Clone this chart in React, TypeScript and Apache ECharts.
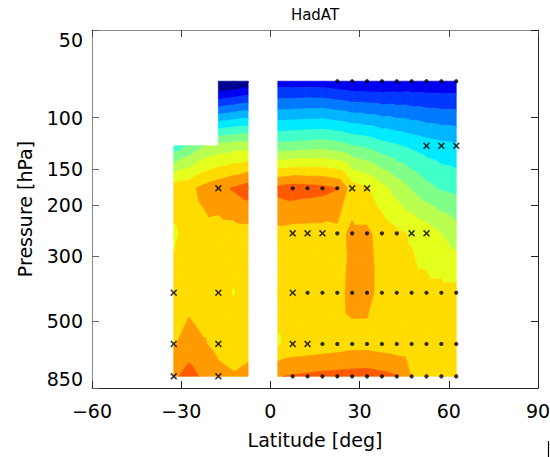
import React, { useEffect, useRef } from 'react';
import * as echarts from 'echarts';

// Grid latitudes (deg) and layer-mid pressure levels (hPa)
const LAT_NORTH = [2.5, 7.5, 12.5, 17.5, 22.5, 27.5, 32.5, 37.5, 42.5, 47.5, 52.5, 57.5, 62.5];
const LAT_SOUTH = [-32.5, -27.5, -22.5, -17.5, -12.5, -7.5];
const LEVELS = [775, 600, 400, 250, 175, 125, 75];

// Temperature trend (K/decade); rows follow LEVELS, columns follow latitudes
const TREND_NORTH: (number | null)[][] = [
  [0.195, 0.21, 0.22, 0.23, 0.235, 0.24, 0.245, 0.23, 0.205, 0.095, 0.04, 0.03, 0.03],
  [-0.01, 0.025, 0.03, 0.04, 0.05, 0.065, 0.065, 0.05, 0.04, 0.03, 0.03, 0.03, 0.03],
  [0.04, 0.04, 0.04, 0.04, 0.06, 0.135, 0.135, 0.06, 0.04, 0.035, 0.03, 0.03, 0.03],
  [0.07, 0.06, 0.06, 0.06, 0.07, 0.12, 0.12, 0.06, 0.02, -0.01, -0.05, -0.1, -0.15],
  [0.23, 0.25, 0.24, 0.23, 0.205, 0.05, 0.01, -0.07, -0.14, -0.21, -0.27, -0.31, -0.33],
  [-0.27, -0.26, -0.25, -0.24, -0.26, -0.295, -0.32, -0.36, -0.39, -0.42, -0.45, -0.47, -0.48],
  [-0.86, -0.86, -0.855, -0.86, -0.88, -0.895, -0.895, -0.895, -0.885, -0.88, -0.88, -0.88, -0.875],
];
const TREND_SOUTH: (number | null)[][] = [
  [0.18, 0.24, 0.18, 0.13, 0.11, 0.14],
  [0.09, 0.145, 0.11, 0.07, 0.05, 0.05],
  [0.03, 0.06, 0.03, 0.03, -0.005, 0.03],
  [-0.015, 0.03, 0.06, 0.05, 0.055, 0.06],
  [0.05, 0.07, 0.13, 0.17, 0.21, 0.25],
  [-0.38, -0.29, -0.205, -0.17, -0.15, -0.14],
  [null, null, null, -1.05, -1.02, -0.985],
];

// Filled-contour boundaries and band colours (one more colour than boundaries)
const CONTOUR_LEVELS = [-0.9, -0.8, -0.7, -0.6, -0.5, -0.4, -0.3, -0.2, -0.1, 0.0, 0.1, 0.2];
const BAND_COLORS = [
  '#000090', '#0000f0', '#0038ff', '#0078ff', '#00b4ff', '#00eaff', '#40ffc8',
  '#80ff88', '#b8ff50', '#e4ff1c', '#ffdc00', '#ff9a00', '#ff5a00',
];

// Significance markers [lat, hPa]
const DOT_POINTS: [number, number][] = [
  [22.5, 75], [27.5, 75], [32.5, 75], [37.5, 75], [42.5, 75], [47.5, 75], [52.5, 75], [57.5, 75], [62.5, 75],
  [7.5, 175], [12.5, 175], [17.5, 175], [22.5, 175],
  [22.5, 250], [27.5, 250], [32.5, 250], [37.5, 250], [42.5, 250],
  [12.5, 400], [17.5, 400], [22.5, 400], [27.5, 400], [32.5, 400], [37.5, 400], [42.5, 400], [47.5, 400], [52.5, 400], [57.5, 400], [62.5, 400],
  [17.5, 600], [22.5, 600], [27.5, 600], [32.5, 600], [37.5, 600], [42.5, 600], [47.5, 600], [52.5, 600], [57.5, 600], [62.5, 600],
  [7.5, 775], [12.5, 775], [17.5, 775], [22.5, 775], [27.5, 775], [32.5, 775], [37.5, 775], [42.5, 775], [47.5, 775], [52.5, 775], [57.5, 775], [62.5, 775],
];
const CROSS_POINTS: [number, number][] = [
  [52.5, 125], [57.5, 125], [62.5, 125],
  [27.5, 175], [32.5, 175], [-17.5, 175],
  [7.5, 250], [12.5, 250], [17.5, 250], [47.5, 250], [52.5, 250],
  [7.5, 400], [-32.5, 400], [-17.5, 400],
  [7.5, 600], [12.5, 600], [-32.5, 600], [-17.5, 600],
  [-32.5, 775], [-17.5, 775],
];

const PRESSURE_TICKS = [50, 100, 150, 200, 300, 500, 850];
const LAT_MIN = -60;
const LAT_MAX = 90;
const LAT_STEP = 30;

const FONT = 'DejaVu Sans';
const log10 = (p: number) => Math.log10(p);

type Vtx = [number, number, number]; // lat, log10(p), value

// Triangulate each grid cell whose four corners carry data
function buildTriangles(): Vtx[][] {
  const tris: Vtx[][] = [];
  const add = (lats: number[], table: (number | null)[][]) => {
    for (let r = 0; r < LEVELS.length - 1; r++) {
      for (let c = 0; c < lats.length - 1; c++) {
        const v00 = table[r][c], v01 = table[r][c + 1], v10 = table[r + 1][c], v11 = table[r + 1][c + 1];
        if (v00 == null || v01 == null || v10 == null || v11 == null) continue;
        const a: Vtx = [lats[c], log10(LEVELS[r]), v00];
        const b: Vtx = [lats[c + 1], log10(LEVELS[r]), v01];
        const cc: Vtx = [lats[c + 1], log10(LEVELS[r + 1]), v11];
        const d: Vtx = [lats[c], log10(LEVELS[r + 1]), v10];
        tris.push([a, b, cc], [a, cc, d]);
      }
    }
  };
  add(LAT_NORTH, TREND_NORTH);
  add(LAT_SOUTH, TREND_SOUTH);
  return tris;
}

function clip(poly: Vtx[], level: number, keepAbove: boolean): Vtx[] {
  const out: Vtx[] = [];
  for (let i = 0; i < poly.length; i++) {
    const a = poly[i];
    const b = poly[(i + 1) % poly.length];
    const ina = keepAbove ? a[2] >= level : a[2] < level;
    const inb = keepAbove ? b[2] >= level : b[2] < level;
    if (ina) out.push(a);
    if (ina !== inb) {
      const t = (level - a[2]) / (b[2] - a[2]);
      out.push([a[0] + t * (b[0] - a[0]), a[1] + t * (b[1] - a[1]), level]);
    }
  }
  return out;
}

function bandPieces(tri: Vtx[]): { band: number; poly: Vtx[] }[] {
  const pieces: { band: number; poly: Vtx[] }[] = [];
  for (let k = 0; k <= CONTOUR_LEVELS.length; k++) {
    let poly: Vtx[] = tri;
    if (k > 0) poly = clip(poly, CONTOUR_LEVELS[k - 1], true);
    if (poly.length >= 3 && k < CONTOUR_LEVELS.length) poly = clip(poly, CONTOUR_LEVELS[k], false);
    if (poly.length >= 3) pieces.push({ band: k, poly });
  }
  return pieces;
}

const TRIANGLES = buildTriangles();

const crossSymbol =
  'path://M1.6,0 L5,3.4 L8.4,0 L10,1.6 L6.6,5 L10,8.4 L8.4,10 L5,6.6 L1.6,10 L0,8.4 L3.4,5 L0,1.6 Z';

export default function App() {
  const ref = useRef<HTMLDivElement>(null);

  useEffect(() => {
    if (!ref.current) return;
    const chart = echarts.init(ref.current, undefined, { renderer: 'svg' });
    const yTicks = PRESSURE_TICKS.map(log10);
    const yMin = log10(PRESSURE_TICKS[0]);
    const yMax = log10(PRESSURE_TICKS[PRESSURE_TICKS.length - 1]);
    const latLabel = (v: number) => (v < 0 ? '\u2212' + Math.abs(v) : String(v));

    chart.setOption({
      animation: false,
      backgroundColor: '#ffffff',
      title: {
        text: 'HadAT',
        left: 315,
        top: 7,
        padding: 0,
        textAlign: 'center',
        textStyle: { fontFamily: FONT, fontSize: 15, fontWeight: 'normal', color: '#000' },
      },
      grid: { left: 92, right: 12, top: 30, bottom: 69, containLabel: false, outerBoundsMode: 'none' },
      xAxis: [
        {
          type: 'value',
          position: 'bottom',
          min: LAT_MIN,
          max: LAT_MAX,
          interval: LAT_STEP,
          name: 'Latitude [deg]',
          nameLocation: 'middle',
          nameGap: 42,
          nameTextStyle: { fontFamily: FONT, fontSize: 19, color: '#000' },
          axisLine: { onZero: false, lineStyle: { color: '#222', width: 1 } },
          axisTick: { inside: true, length: 7, lineStyle: { color: '#222' } },
          axisLabel: { fontFamily: FONT, fontSize: 19, color: '#000', margin: 13, formatter: latLabel },
          splitLine: { show: false },
        },
        {
          type: 'value',
          position: 'top',
          min: LAT_MIN,
          max: LAT_MAX,
          interval: LAT_STEP,
          axisLine: { onZero: false, lineStyle: { color: '#888', width: 1 } },
          axisTick: { inside: true, length: 7, lineStyle: { color: '#444' } },
          axisLabel: { show: false },
          splitLine: { show: false },
        },
      ],
      yAxis: [
        {
          type: 'value',
          position: 'left',
          inverse: true,
          min: yMin,
          max: yMax,
          name: 'Pressure [hPa]',
          nameLocation: 'middle',
          nameGap: 58,
          nameRotate: 90,
          nameTextStyle: { fontFamily: FONT, fontSize: 19, color: '#000' },
          axisLine: { onZero: false, lineStyle: { color: '#888', width: 1 } },
          axisTick: { inside: true, length: 7, customValues: yTicks, lineStyle: { color: '#666' } },
          axisLabel: {
            fontFamily: FONT,
            fontSize: 19,
            color: '#000',
            margin: 9,
            customValues: yTicks,
            verticalAlignMinLabel: 'top',
            verticalAlignMaxLabel: 'bottom',
            formatter: (v: number) => String(Math.round(Math.pow(10, v))),
          },
          splitLine: { show: false },
        },
        {
          type: 'value',
          position: 'right',
          inverse: true,
          min: yMin,
          max: yMax,
          axisLine: { onZero: false, lineStyle: { color: '#222', width: 1 } },
          axisTick: { inside: true, length: 7, customValues: yTicks, lineStyle: { color: '#222' } },
          axisLabel: { show: false, customValues: yTicks },
          splitLine: { show: false },
        },
      ],
      graphic: [
        {
          type: 'line',
          shape: { x1: 548.5, y1: 441, x2: 548.5, y2: 457 },
          style: { stroke: '#000', lineWidth: 1.2 },
        },
      ],
      series: [
        {
          type: 'custom',
          xAxisIndex: 0,
          yAxisIndex: 0,
          clip: true,
          silent: true,
          data: TRIANGLES.map((t, i) => [(t[0][0] + t[1][0] + t[2][0]) / 3, (t[0][1] + t[1][1] + t[2][1]) / 3, i]),
          encode: { x: 0, y: 1 },
          renderItem: (params: any, api: any) => {
            const tri = TRIANGLES[params.dataIndex];
            const children = bandPieces(tri).map((piece) => {
              const color = BAND_COLORS[piece.band];
              return {
                type: 'polygon',
                shape: { points: piece.poly.map((p) => api.coord([p[0], p[1]])) },
                style: { fill: color, stroke: color, lineWidth: 0.7 },
              };
            });
            return { type: 'group', children };
          },
          z: 1,
        },
        {
          type: 'scatter',
          xAxisIndex: 0,
          yAxisIndex: 0,
          symbol: 'circle',
          symbolSize: 4.2,
          itemStyle: { color: '#000' },
          silent: true,
          data: DOT_POINTS.map(([lat, p]) => [lat, log10(p)]),
          z: 3,
        },
        {
          type: 'scatter',
          xAxisIndex: 0,
          yAxisIndex: 0,
          symbol: crossSymbol,
          symbolSize: 7,
          itemStyle: { color: '#000' },
          silent: true,
          data: CROSS_POINTS.map(([lat, p]) => [lat, log10(p)]),
          z: 3,
        },
      ],
    });
    return () => chart.dispose();
  }, []);

  return (
    <div
      ref={ref}
      style={{ position: 'fixed', left: 0, top: 0, width: 550, height: 457, background: '#fff' }}
    />
  );
}
